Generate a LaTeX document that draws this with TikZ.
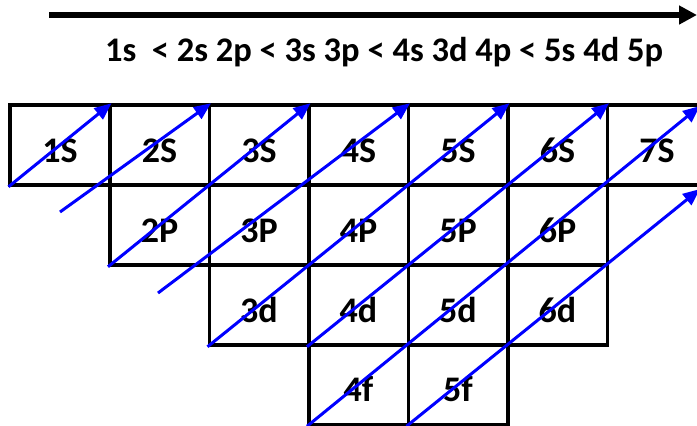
\documentclass[tikz,border=0pt]{standalone}
\usepackage{fontspec}
\setmainfont{Carlito}
\usetikzlibrary{arrows.meta}
\begin{document}
\begin{tikzpicture}[x=1bp,y=-1bp,
  cell/.style={draw=black,line width=3.5bp,minimum width=99.5bp,minimum height=80bp,
    inner sep=0pt,text height=34bp,text depth=0pt,
    font=\fontsize{36bp}{42bp}\selectfont\bfseries},
  toptext/.style={anchor=base,inner sep=0pt,font=\fontsize{34.5bp}{40bp}\selectfont\bfseries},
  bigarrow/.style={draw=black,line width=6.5bp,-{Triangle[length=18bp,width=18bp]}},
  diag/.style={draw=blue,line width=3bp,-{Triangle[length=17bp,width=14bp]}},
]
\useasboundingbox (0,0) rectangle (697,425);
\clip (0,0) rectangle (697,425);
% top arrow and order text
\coordinate (a0) at (49,15);
\coordinate (a1) at (697,15);
\draw[bigarrow] (a0) -- (a1);
\node[toptext] (order) at (384,61) {1s\ \ < 2s 2p < 3s 3p < 4s 3d 4p < 5s 4d 5p};
% row 1
\node[cell] (s1) at (60,145) {1S};
\node[cell] (s2) at (159.5,145) {2S};
\node[cell] (s3) at (259,145) {3S};
\node[cell] (s4) at (358.5,145) {4S};
\node[cell] (s5) at (458,145) {5S};
\node[cell] (s6) at (557.5,145) {6S};
\node[cell] (s7) at (657,145) {7S};
% row 2
\node[cell] (p2) at (159.5,225) {2P};
\node[cell] (p3) at (259,225) {3P};
\node[cell] (p4) at (358.5,225) {4P};
\node[cell] (p5) at (458,225) {5P};
\node[cell] (p6) at (557.5,225) {6P};
% row 3
\node[cell] (d3) at (259,305) {3d};
\node[cell] (d4) at (358.5,305) {4d};
\node[cell] (d5) at (458,305) {5d};
\node[cell] (d6) at (557.5,305) {6d};
% row 4
\node[cell] (f4) at (358.5,384.5) {4f};
\node[cell] (f5) at (458,384.5) {5f};
% free ends
\coordinate (b2) at (60,212);
\coordinate (b4) at (158,293);
\coordinate (e7) at (700,106);
\coordinate (e8) at (700,189);
% diagonal arrows
\draw[diag] (s1.south west) -- (s1.north east);
\draw[diag] (b2) -- (s2.north east);
\draw[diag] (p2.south west) -- (s3.north east);
\draw[diag] (b4) -- (s4.north east);
\draw[diag] (d3.south west) -- (s5.north east);
\draw[diag] (d4.south west) -- (s6.north east);
\draw[diag] (f4.south west) -- (e7);
\draw[diag] (f5.south west) -- (e8);
\end{tikzpicture}
\end{document}
